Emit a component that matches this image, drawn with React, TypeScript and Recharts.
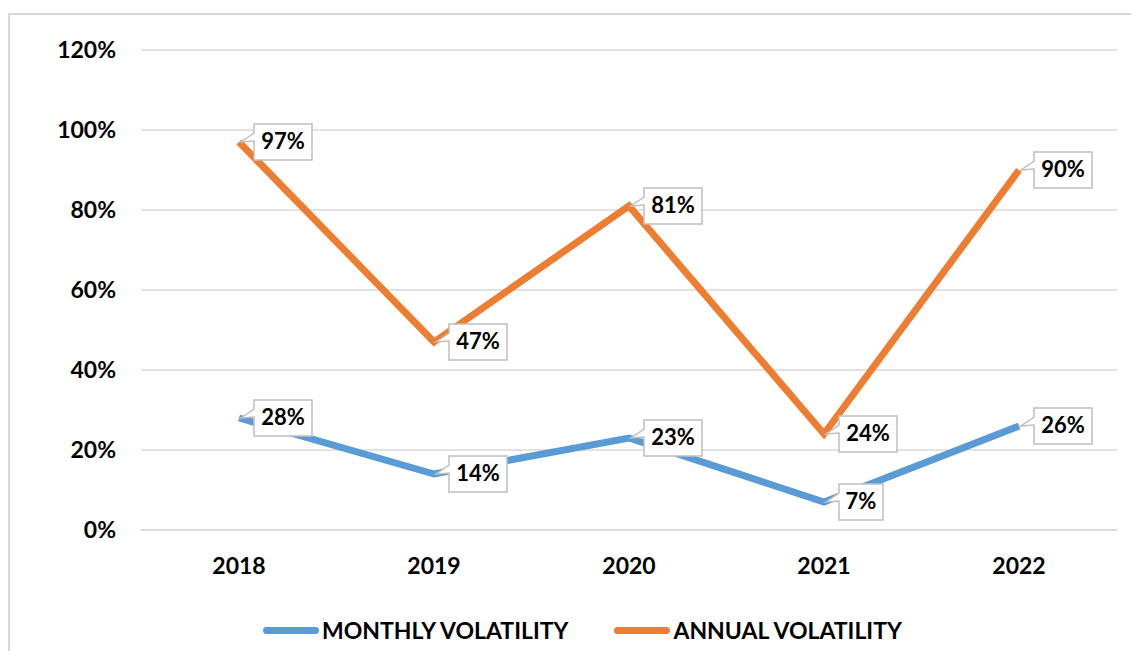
import { LineChart, Line, XAxis, YAxis, CartesianGrid, LabelList } from "recharts";

const years = ["2018", "2019", "2020", "2021", "2022"];
const monthlyVolatility = [28, 14, 23, 7, 26];
const annualVolatility = [97, 47, 81, 24, 90];
const yTicks = [0, 20, 40, 60, 80, 100, 120];

const BLUE = "#5B9BD5";
const ORANGE = "#ED7D31";
const FONT = "Lato, 'Open Sans', sans-serif";

const data = years.map((year, i) => ({
  year,
  monthly: monthlyVolatility[i],
  annual: annualVolatility[i],
}));

// callout label: box to the right of the point, with a little tail pointing back
const Callout = (props: any) => {
  const { x, y, value } = props;
  if (x == null || y == null) return null;
  const text = `${value}%`;
  const w = 16 + text.length * 14;
  const h = 36;
  const left = x + 15;
  const top = y - h / 2;
  const d = `M${left},${top} L${left + w},${top} L${left + w},${top + h} L${left},${top + h} L${left},${top + 17} L${x + 2},${y} L${left},${top + 9} Z`;
  return (
    <g>
      <path d={d} fill="#fff" stroke="#bfbfbf" strokeWidth={1.5} />
      <text
        x={left + w / 2}
        y={y + 1}
        textAnchor="middle"
        dominantBaseline="middle"
        fontFamily={FONT}
        fontWeight={700}
        fontSize={22}
        fill="#000"
      >
        {text}
      </text>
    </g>
  );
};

const legendItems = [
  { label: "MONTHLY VOLATILITY", color: BLUE },
  { label: "ANNUAL VOLATILITY", color: ORANGE },
];

export default function App() {
  return (
    <div style={{ width: 1131, height: 643, overflow: "hidden", paddingTop: 5, boxSizing: "border-box" }}>
      <div
        style={{
          width: 1150,
          height: 660,
          border: "2px solid #d9d9d9",
          boxSizing: "border-box",
          position: "relative",
          background: "#fff",
        }}
      >
        <LineChart
          width={1129}
          height={590}
          data={data}
          margin={{ top: 35, right: 22, bottom: 0, left: 0 }}
        >
          <CartesianGrid vertical={false} stroke="#d9d9d9" strokeWidth={1.5} />
          <XAxis
            dataKey="year"
            axisLine={{ stroke: "#d9d9d9", strokeWidth: 1.5 }}
            tickLine={false}
            padding={{ left: 98, right: 98 }}
            tick={{ fill: "#000", fontFamily: FONT, fontWeight: 700, fontSize: 23 }}
            tickMargin={22}
            height={75}
          />
          <YAxis
            domain={[0, 120]}
            ticks={yTicks}
            axisLine={false}
            tickLine={false}
            tickSize={0}
            tickMargin={25}
            width={131}
            tickFormatter={(v: number) => `${v}%`}
            tick={{ fill: "#000", fontFamily: FONT, fontWeight: 700, fontSize: 23 }}
          />
          <Line
            type="linear"
            dataKey="monthly"
            stroke={BLUE}
            strokeWidth={7}
            dot={false}
            isAnimationActive={false}
          >
            <LabelList dataKey="monthly" content={Callout} />
          </Line>
          <Line
            type="linear"
            dataKey="annual"
            stroke={ORANGE}
            strokeWidth={7}
            dot={false}
            isAnimationActive={false}
          >
            <LabelList dataKey="annual" content={Callout} />
          </Line>
        </LineChart>
        <div
          style={{
            position: "absolute",
            top: 601,
            left: 253,
            display: "flex",
            gap: 46,
            fontFamily: FONT,
            fontWeight: 700,
            fontSize: 23,
            color: "#000",
          }}
        >
          {legendItems.map((item) => (
            <div key={item.label} style={{ display: "flex", alignItems: "center" }}>
              <div style={{ width: 56, height: 7, borderRadius: 4, background: item.color, marginRight: 3 }} />
              <span>{item.label}</span>
            </div>
          ))}
        </div>
      </div>
    </div>
  );
}
